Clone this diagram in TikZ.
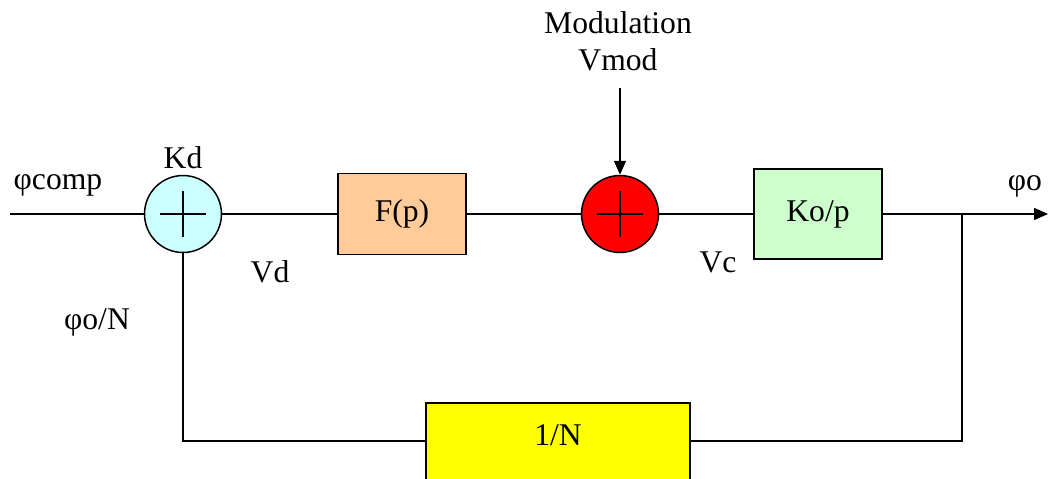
\documentclass[tikz,border=0pt]{standalone}
\usepackage{fontspec}
\setmainfont{Liberation Serif}
\usepackage{xcolor}
\usetikzlibrary{arrows.meta}

\definecolor{sumblue}{RGB}{204,255,255}
\definecolor{peach}{RGB}{255,204,153}
\definecolor{palegreen}{RGB}{204,255,204}
\definecolor{brightyellow}{RGB}{255,255,0}

\begin{document}
\begin{tikzpicture}[x=0.02cm,y=-0.02cm,line width=0.85pt,
    font=\fontsize{18}{21}\selectfont,
    sumnode/.style={circle,draw,inner sep=0pt,minimum size=1.54cm},
    blockbox/.style={rectangle,draw,inner sep=0pt,minimum width=2.56cm},
    sig/.style={-{Triangle[length=0.28cm,width=0.24cm]}}]
  \clip (0,0) rectangle (1053,478);

  % summing points
  \node[sumnode,fill=sumblue] (s1) at (183,214) {};
  \node[sumnode,fill=red] (s2) at (620,214) {};
  \foreach \s in {s1,s2} {
    \draw (\s.center) +(-23,0) -- +(23,0);
    \draw (\s.center) +(0,-23) -- +(0,23);}

  % blocks
  \node[blockbox,fill=peach,minimum height=1.62cm] (fp) at (402,214) {F(p)};
  \node[blockbox,fill=palegreen,minimum height=1.8cm] (ko) at (818,214) {Ko/p};
  \node[blockbox,fill=brightyellow,minimum width=5.28cm,text height=0.84cm,text depth=1.2cm] (fb) at (558,454) {1/N};

  % labels
  \node (kd) at (183,158) {Kd};
  \node (pcomp) at (58,185) {φcomp};
  \node (pn) at (97,322) {φo/N};
  \node (vd) at (270,272) {Vd};
  \node (vc) at (718,262) {Vc};
  \node (po) at (1025,186) {φo};
  \node[align=center] (mod) at (618,41) {Modulation\\Vmod};

  % signal paths
  \coordinate (in) at (10,214);
  \coordinate (out) at (1048,214);
  \coordinate (br) at (962,214);
  \coordinate (vm) at (620,88);
  \draw (in) -- (s1.west);
  \draw (s1.east) -- (fp.west);
  \draw (fp.east) -- (s2.west);
  \draw (s2.east) -- (ko.west);
  \draw[sig] (ko.east) -- (out);
  \draw[sig] (vm) -- (s2.north);
  \draw (br) |- (fb.mid east);
  \draw (fb.mid west) -| (s1.south);
\end{tikzpicture}
\end{document}
